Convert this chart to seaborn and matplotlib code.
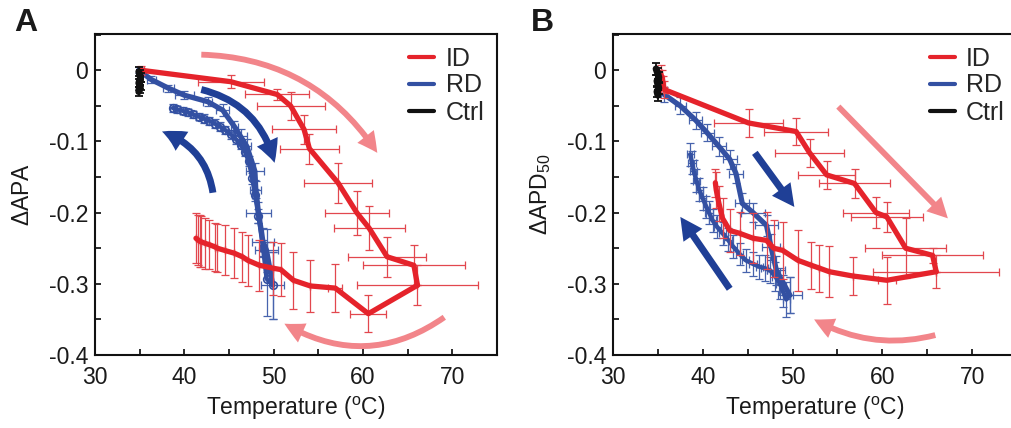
import numpy as np
import pandas as pd
import matplotlib
matplotlib.use("Agg")
import matplotlib.pyplot as plt
import seaborn as sns
from matplotlib.patches import FancyArrowPatch
from matplotlib.lines import Line2D
from matplotlib.ticker import MultipleLocator, FuncFormatter

# ---------------- data ----------------
# Panel A : delta APA
a_id_heat_T = [35.2, 45.2, 50.4, 51.9, 53.4, 54.0, 57.2, 59.3, 60.7, 62.7, 65.7, 66.1]
a_id_heat_y = [0.0, -0.016, -0.034, -0.050, -0.083, -0.110, -0.158, -0.200, -0.222, -0.262, -0.274, -0.302]
a_id_heat_xe = [0.3, 3.7, 3.6, 3.8, 3.6, 3.3, 3.8, 3.6, 4.0, 4.4, 5.7, 6.8]
a_id_heat_ye = [0.006, 0.009, 0.008, 0.020, 0.020, 0.021, 0.028, 0.031, 0.031, 0.028, 0.028, 0.028]

a_id_cool_T = [66.1, 60.6, 56.9, 54.1, 52.2, 50.8, 49.9, 48.4, 47.1, 46.5, 45.6, 44.5, 43.7, 43.4, 42.8, 42.3, 41.9, 41.7, 41.5, 41.3]
a_id_cool_y = [-0.302, -0.342, -0.306, -0.303, -0.295, -0.280, -0.278, -0.274, -0.267, -0.262, -0.257, -0.253, -0.250, -0.248, -0.245, -0.243, -0.241, -0.240, -0.238, -0.236]
a_id_cool_xe = [0, 2.0, 0.8, 0, 0, 0, 0, 0, 0, 0, 0, 0, 0, 0, 0, 0, 0, 0, 0, 0]
a_id_cool_ye = [0, 0.026, 0.034, 0.036, 0.040, 0.037, 0.037, 0.036, 0.036, 0.035, 0.035, 0.035, 0.034, 0.034, 0.034, 0.036, 0.036, 0.036, 0.035, 0.035]

a_rd_heat_T = [34.9, 36.3, 38.2, 40.0, 42.6, 44.3, 45.6, 46.3, 47.0, 47.9, 48.0, 48.3, 48.8, 49.2, 49.9]
a_rd_heat_y = [0.0, -0.013, -0.025, -0.035, -0.044, -0.056, -0.079, -0.093, -0.107, -0.142, -0.168, -0.200, -0.241, -0.253, -0.302]
a_rd_heat_xe = [0.2, 0.5, 0.6, 1.1, 0.55, 0.75, 0.4, 0.75, 0.5, 1.0, 0.6, 1.4, 1.2, 1.3, 1.3]
a_rd_heat_ye = [0.004, 0.005, 0.005, 0.006, 0.006, 0.008, 0.008, 0.010, 0.010, 0.012, 0.012, 0.015, 0.020, 0.030, 0.047]

a_rd_cool_T = [49.9, 49.2, 48.8, 48.3, 47.9, 47.6, 47.2, 46.8, 46.3, 45.8, 45.2, 44.6, 44.0, 43.4, 42.8, 42.2, 41.6, 41.0, 40.4, 39.8, 39.2, 38.7]
a_rd_cool_y = [-0.302, -0.293, -0.250, -0.205, -0.175, -0.152, -0.128, -0.115, -0.105, -0.097, -0.090, -0.084, -0.079, -0.075, -0.071, -0.068, -0.065, -0.062, -0.059, -0.057, -0.055, -0.053]
a_rd_cool_xe = [0, 0, 0.3, 0.3, 0.3, 0.3, 0.3, 0.3, 0.3, 0.3, 0.3, 0.3, 0.3, 0.3, 0.3, 0.3, 0.3, 0.3, 0.3, 0.3, 0.3, 0.3]
a_rd_cool_ye = [0.047, 0.052, 0.012, 0.010, 0.008, 0.008, 0.007, 0.006, 0.006, 0.006, 0.006, 0.006, 0.006, 0.006, 0.006, 0.006, 0.005, 0.005, 0.005, 0.005, 0.005, 0.005]

a_ctrl_T = [34.9, 35.0, 35.1, 35.0, 34.9, 35.1, 35.0, 34.9, 35.0]
a_ctrl_y = [-0.002, -0.006, -0.010, -0.014, -0.018, -0.022, -0.026, -0.030, -0.020]
a_ctrl_ye = [0.006, 0.006, 0.006, 0.006, 0.006, 0.006, 0.006, 0.006, 0.006]

# Panel B : delta APD50
b_id_heat_T = [35.3, 35.5, 35.6, 35.7, 45.1, 50.4, 51.9, 53.8, 56.9, 59.3, 60.5, 62.6, 65.6, 66.0]
b_id_heat_y = [-0.004, -0.012, -0.020, -0.027, -0.074, -0.086, -0.116, -0.147, -0.159, -0.200, -0.206, -0.250, -0.260, -0.283]
b_id_heat_xe = [0.2, 0.2, 0.2, 0.3, 3.8, 3.6, 3.8, 3.2, 3.9, 3.7, 4.0, 4.5, 5.6, 7.0]
b_id_heat_ye = [0.012, 0.012, 0.012, 0.012, 0.020, 0.019, 0.020, 0.020, 0.020, 0.022, 0.021, 0.042, 0.011, 0.023]

b_id_cool_T = [66.0, 60.5, 56.7, 54.1, 53.0, 52.1, 50.6, 48.9, 47.9, 47.1, 45.6, 44.1, 43.0, 42.2, 41.8, 41.5, 41.4]
b_id_cool_y = [-0.283, -0.295, -0.289, -0.283, -0.278, -0.274, -0.267, -0.253, -0.250, -0.239, -0.236, -0.229, -0.225, -0.208, -0.187, -0.168, -0.158]
b_id_cool_xe = [0, 1.0, 0, 0, 0, 0, 0, 0, 0, 0, 0, 0, 0, 0, 0, 0, 0]
b_id_cool_ye = [0, 0.033, 0.027, 0.036, 0.033, 0.033, 0.043, 0.040, 0.040, 0.040, 0.035, 0.030, 0.030, 0.028, 0.025, 0.025, 0.020]

b_rd_heat_T = [35.7, 37.5, 39.2, 40.5, 41.8, 43.0, 43.7, 44.4, 45.6, 47.1, 47.6, 48.2, 49.7]
b_rd_heat_y = [-0.034, -0.050, -0.070, -0.088, -0.107, -0.125, -0.145, -0.187, -0.200, -0.218, -0.248, -0.281, -0.316]
b_rd_heat_xe = [0.3, 0.6, 0.75, 0.7, 0.75, 0.8, 0.8, 0.8, 1.3, 1.3, 1.0, 1.0, 1.3]
b_rd_heat_ye = [0.010, 0.012, 0.012, 0.012, 0.013, 0.013, 0.014, 0.014, 0.013, 0.015, 0.018, 0.020, 0.025]

b_rd_cool_T = [49.7, 49.3, 48.9, 48.6, 48.1, 47.5, 46.9, 46.3, 45.6, 44.8, 44.1, 43.4, 42.8, 42.2, 41.6, 41.1, 40.7, 40.4, 40.0, 39.6, 39.3, 39.0, 38.8, 38.6]
b_rd_cool_y = [-0.316, -0.322, -0.310, -0.300, -0.290, -0.281, -0.278, -0.276, -0.272, -0.267, -0.258, -0.248, -0.238, -0.229, -0.220, -0.211, -0.200, -0.192, -0.180, -0.168, -0.155, -0.142, -0.130, -0.118]
b_rd_cool_xe = [0.4] * 24
b_rd_cool_ye = [0.025, 0.025, 0.022, 0.022, 0.020, 0.018, 0.018, 0.017, 0.017, 0.016, 0.016, 0.016, 0.016, 0.016, 0.016, 0.016, 0.016, 0.016, 0.016, 0.016, 0.016, 0.016, 0.016, 0.016]

b_ctrl_T = [34.8, 35.0, 35.1, 34.9, 35.0, 35.1, 34.9, 35.0]
b_ctrl_y = [0.002, -0.005, -0.010, -0.015, -0.020, -0.025, -0.030, -0.035]
b_ctrl_ye = [0.008] * 8

# direction arrows (start, end, curvature) in data coordinates
a_arrows = [((41.9, 0.022), (61.6, -0.116), -0.26, "pink"),
            ((69.1, -0.347), (51.2, -0.356), -0.32, "pink"),
            ((41.9, -0.027), (50.1, -0.130), -0.30, "navy"),
            ((43.2, -0.172), (37.5, -0.086), 0.30, "navy")]
b_arrows = [((55.1, -0.051), (67.3, -0.208), 0.0, "pink"),
            ((65.9, -0.372), (52.4, -0.350), -0.20, "pink"),
            ((45.8, -0.116), (50.2, -0.192), 0.0, "navy"),
            ((43.0, -0.307), (37.5, -0.206), 0.0, "navy")]

labels = ["ID", "RD", "Ctrl"]

# ---------------- style ----------------
RED = "#e5232b"
RED_E = "#e2474e"
BLUE = "#3350a2"
BLUE_E = "#4763ad"
BLACK = "#111111"
PINK = "#f2858a"
NAVY = "#1f3f96"

sns.set_theme(style="ticks")
plt.rcParams["font.family"] = ["Liberation Sans", "DejaVu Sans"]
plt.rcParams["mathtext.fontset"] = "custom"
plt.rcParams["mathtext.rm"] = "Liberation Sans"
plt.rcParams["mathtext.it"] = "Liberation Sans:italic"
plt.rcParams["axes.unicode_minus"] = False

fig = plt.figure(figsize=(10.12, 4.28), dpi=100)
axA = fig.add_axes([95 / 1012, 1 - 355 / 428, 402 / 1012, 321 / 428])
axB = fig.add_axes([613 / 1012, 1 - 355 / 428, 404 / 1012, 321 / 428])


def series(ax, T, y, xe, ye, color, ecolor, lw=3.8, marker=None, z=3,
           ms=5.0, cap=2.6, elw=0.9):
    ax.errorbar(T, y, xerr=xe, yerr=ye, fmt="none", ecolor=ecolor,
                elinewidth=elw, capsize=cap, capthick=elw, zorder=z - 0.5)
    df = pd.DataFrame({"T": T, "v": y})
    kw = {}
    if marker:
        kw = dict(marker=marker, markersize=ms, markerfacecolor="none",
                  markeredgecolor=color, markeredgewidth=1.2)
    sns.lineplot(data=df, x="T", y="v", sort=False, estimator=None, color=color,
                 lw=lw, ax=ax, zorder=z, legend=False, **kw)


def arrow(ax, start, end, rad, kind):
    if kind == "pink":
        style = "simple,head_width=1.5,head_length=1.45,tail_width=0.42"
        col = PINK
    else:
        style = "simple,head_width=1.65,head_length=1.6,tail_width=0.5"
        col = NAVY
    p = FancyArrowPatch(start, end, connectionstyle=f"arc3,rad={rad}",
                        arrowstyle=style, mutation_scale=10, color=col,
                        lw=0, shrinkA=0, shrinkB=0, zorder=2)
    ax.add_patch(p)


def style_axes(ax, ylabel, ylabel_x):
    ax.set_xlim(30, 75)
    ax.set_ylim(-0.4, 0.051)
    ax.xaxis.set_major_locator(MultipleLocator(10))
    ax.xaxis.set_minor_locator(MultipleLocator(5))
    ax.yaxis.set_major_locator(MultipleLocator(0.1))
    ax.yaxis.set_minor_locator(MultipleLocator(0.05))
    ax.yaxis.set_major_formatter(FuncFormatter(lambda v, _: "0" if abs(v) < 1e-9 else f"{v:.1f}"))
    ax.tick_params(which="both", direction="in", length=4.5, width=1.3,
                   top=False, right=False, labelsize=16.5, colors="#1a1a1a")
    ax.tick_params(axis="x", pad=8)
    ax.tick_params(axis="y", pad=5)
    for s in ax.spines.values():
        s.set_linewidth(1.5)
        s.set_color("#111111")
    ax.set_xlabel("Temperature ($\\mathregular{^{o}}$C)", fontsize=16.5, color="#1a1a1a", labelpad=4)
    ax.set_ylabel(ylabel, fontsize=16.5, color="#1a1a1a")
    ax.yaxis.set_label_coords(ylabel_x, 0.5)
    handles = [Line2D([], [], color=c, lw=3) for c in (RED, BLUE, BLACK)]
    ax.legend(handles, labels, loc="upper right", bbox_to_anchor=(1.0, 1.0),
              frameon=False, fontsize=18, handlelength=1.0, handletextpad=0.45,
              labelspacing=0.12, borderaxespad=0.3, borderpad=0.2)


# Panel A
for s, e, r, k in a_arrows:
    arrow(axA, s, e, r, k)
series(axA, a_rd_heat_T, a_rd_heat_y, a_rd_heat_xe, a_rd_heat_ye, BLUE, BLUE_E, z=3)
series(axA, a_rd_cool_T, a_rd_cool_y, a_rd_cool_xe, a_rd_cool_ye, BLUE, BLUE_E, lw=3.0, marker="o", z=3, ms=5.5)
series(axA, a_id_heat_T, a_id_heat_y, a_id_heat_xe, a_id_heat_ye, RED, RED_E, z=4)
series(axA, a_id_cool_T, a_id_cool_y, a_id_cool_xe, a_id_cool_ye, RED, RED_E, z=4)
series(axA, a_ctrl_T, a_ctrl_y, [0] * len(a_ctrl_T), a_ctrl_ye, BLACK, BLACK, lw=5.0, z=5, cap=3.2, elw=1.3)
style_axes(axA, "$\\Delta$APA", -0.152)

# Panel B
for s, e, r, k in b_arrows:
    arrow(axB, s, e, r, k)
series(axB, b_rd_heat_T, b_rd_heat_y, b_rd_heat_xe, b_rd_heat_ye, BLUE, BLUE_E, z=3)
series(axB, b_rd_cool_T, b_rd_cool_y, b_rd_cool_xe, b_rd_cool_ye, BLUE, BLUE_E, lw=3.2, z=3)
series(axB, b_id_heat_T, b_id_heat_y, b_id_heat_xe, b_id_heat_ye, RED, RED_E, z=4)
series(axB, b_id_cool_T, b_id_cool_y, b_id_cool_xe, b_id_cool_ye, RED, RED_E, z=4)
series(axB, b_ctrl_T, b_ctrl_y, [0] * len(b_ctrl_T), b_ctrl_ye, BLACK, BLACK, lw=5.0, z=5, cap=3.2, elw=1.3)
style_axes(axB, "$\\Delta$APD$_{50}$", -0.148)

fig.text(14 / 1012, 1 - 8 / 428, "A", fontsize=23, fontweight="bold", va="top", ha="left", color="#1a1a1a")
fig.text(531 / 1012, 1 - 8 / 428, "B", fontsize=23, fontweight="bold", va="top", ha="left", color="#1a1a1a")

fig.savefig("out.png", dpi=100)
